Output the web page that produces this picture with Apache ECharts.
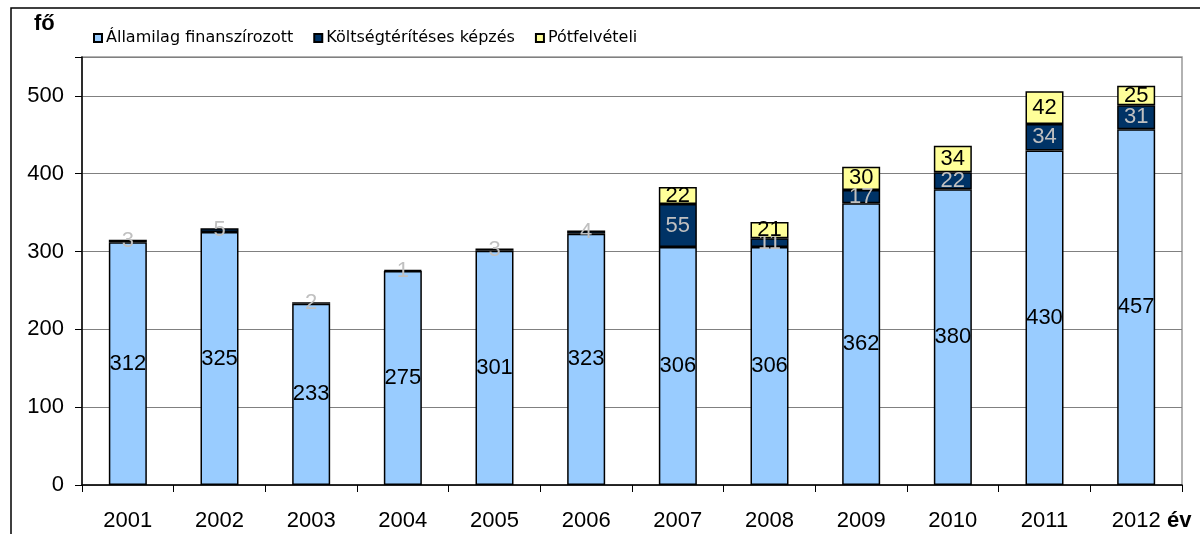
<!DOCTYPE html>
<html>
<head>
<meta charset="utf-8">
<script src="https://cdn.jsdelivr.net/npm/echarts@6/dist/echarts.min.js"></script>
<style>
  html, body { margin: 0; padding: 0; background: #fff; }
  #chart { width: 1200px; height: 534px; }
</style>
</head>
<body>
<div id="chart"></div>
<script>
// évek és létszámok (fő)
const years = ['2001', '2002', '2003', '2004', '2005', '2006', '2007', '2008', '2009', '2010', '2011', '2012'];
const allami = [312, 325, 233, 275, 301, 323, 306, 306, 362, 380, 430, 457];
const koltseg = [3, 5, 2, 1, 3, 4, 55, 11, 17, 22, 34, 31];
const potfelv = [null, null, null, null, null, null, 22, 21, 30, 34, 42, 25];
const yTicks = [0, 100, 200, 300, 400, 500];

const FONT = 'Liberation Sans, Arial, sans-serif';

const chart = echarts.init(document.getElementById('chart'));

function barSeries(name, data, color, labelColor) {
  return {
    name: name,
    type: 'bar',
    stack: 'total',
    barWidth: 38,
    data: data,
    itemStyle: {
      color: color,
      borderColor: '#000',
      borderWidth: 1.5
    },
    label: {
      show: true,
      position: 'inside',
      fontFamily: FONT,
      fontSize: 22,
      color: labelColor
    },
    emphasis: { disabled: true }
  };
}

chart.setOption({
  animation: false,
  grid: {
    left: 82,
    right: 18,
    top: 57,
    bottom: 49,
    show: true,
    borderColor: '#999',
    borderWidth: 1.5
  },
  legend: {
    left: 88,
    top: 25,
    itemWidth: 8,
    itemHeight: 8,
    itemGap: 20,
    icon: 'rect',
    textStyle: { fontFamily: 'DejaVu Sans, sans-serif', fontSize: 16, color: '#000', padding: [0, 0, 0, -1] },
    data: ['Államilag finanszírozott', 'Költségtérítéses képzés', 'Pótfelvételi']
  },
  xAxis: {
    type: 'category',
    data: years,
    axisLine: { lineStyle: { color: '#000', width: 1.5 } },
    axisTick: { show: true, length: 7, lineStyle: { color: '#000' } },
    axisLabel: { fontFamily: FONT, fontSize: 22, color: '#000', margin: 25 },
    splitLine: { show: false }
  },
  yAxis: {
    type: 'value',
    min: 0,
    max: 550,
    interval: 100,
    axisLine: { show: true, lineStyle: { color: '#000', width: 1.5 } },
    axisTick: { show: true, length: 7, lineStyle: { color: '#000' } },
    axisLabel: {
      fontFamily: FONT, fontSize: 22, color: '#000', margin: 18,
      formatter: function (v) { return yTicks.indexOf(v) >= 0 ? String(v) : ''; }
    },
    splitLine: { show: true, lineStyle: { color: '#808080', width: 1 } }
  },
  graphic: [
    {
      type: 'rect',
      shape: { x: 11, y: 8, width: 1250, height: 600 },
      style: { fill: 'none', stroke: '#000', lineWidth: 1.5 },
      silent: true
    },
    {
      type: 'text',
      left: 34,
      top: 13,
      style: { text: 'fő', fontFamily: FONT, fontSize: 22, fontWeight: 'bold', fill: '#000' }
    },
    {
      type: 'text',
      left: 1167,
      top: 510,
      style: { text: 'év', fontFamily: FONT, fontSize: 22, fontWeight: 'bold', fill: '#000' }
    }
  ],
  series: [
    barSeries('Államilag finanszírozott', allami, '#99CCFF', '#000'),
    barSeries('Költségtérítéses képzés', koltseg, '#003366', '#C0C0C0'),
    barSeries('Pótfelvételi', potfelv, '#FFFF99', '#000')
  ]
});
</script>
</body>
</html>
